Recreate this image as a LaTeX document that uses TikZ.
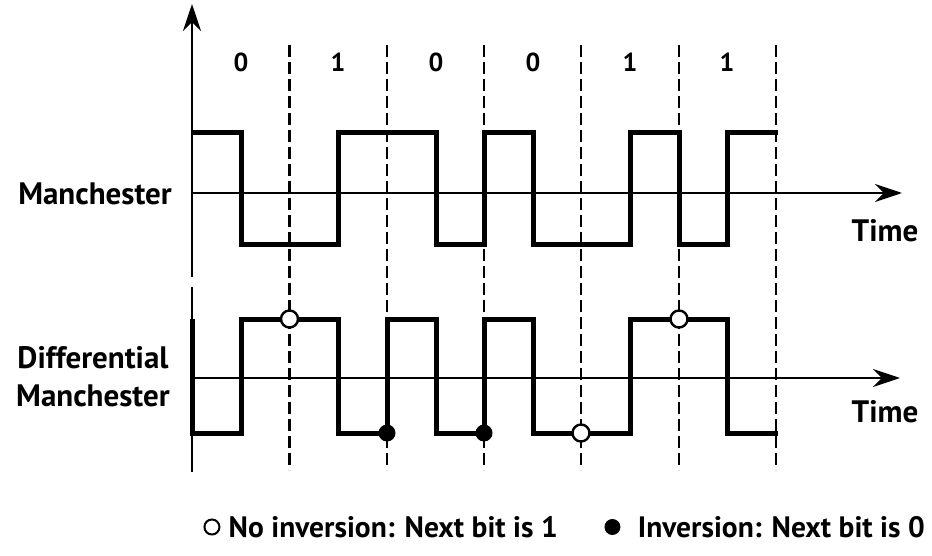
\documentclass[tikz,border=0pt]{standalone}
\usepackage{fontspec}
\setmainfont{PT Sans}
\usetikzlibrary{arrows.meta}
\begin{document}
\begin{tikzpicture}[x=1pt,y=-1pt,
  axis/.style={line width=2.8pt,-{Stealth[length=27pt,width=18pt]}},
  axisline/.style={line width=2.8pt},
  wave/.style={line width=5pt,line join=miter,line cap=butt},
  bitline/.style={line width=2.6pt,dash pattern=on 12pt off 5pt},
  lbl/.style={font=\bfseries\fontsize{31}{38}\selectfont,inner sep=0pt},
  keylbl/.style={font=\bfseries\fontsize{29.5}{34}\selectfont,inner sep=0pt},
  bitlbl/.style={font=\bfseries\fontsize{26}{30}\selectfont,inner sep=0pt},
  opendot/.style={circle,draw,fill=white,line width=2.4pt,minimum size=17pt,inner sep=0pt},
  fulldot/.style={circle,fill=black,minimum size=17pt,inner sep=0pt},
]
\useasboundingbox[fill=white] (0,0) rectangle (932,556);

% vertical axis (broken between the two traces)
\coordinate (ytop) at (192,4);
\coordinate (ybreak1) at (192,277);
\coordinate (ybreak2) at (192,287);
\coordinate (ybot) at (192,472);
\draw[axis] (ybreak1) -- (ytop);
\draw[axisline] (ybreak2) -- (ybot);

% time axes
\coordinate (m0) at (192,193);
\coordinate (m1) at (902,193);
\coordinate (d0) at (190,378);
\coordinate (d1) at (900,378);
\draw[axis] (m0) -- (m1);
\draw[axis] (d0) -- (d1);

% bit boundaries
\foreach \i/\x in {1/289.5,2/387,3/484,4/581,5/679,6/776}{
  \coordinate (bt\i) at (\x,45);
  \coordinate (bb\i) at (\x,470);
  \draw[bitline] (bt\i) -- (bb\i);
}

% bit values
\foreach \i/\x/\b in {1/241/0,2/338/1,3/436/0,4/533/0,5/630/1,6/727/1}{
  \node[bitlbl] (bit\i) at (\x,62) {\b};
}

% Manchester waveform
\draw[wave] (192,133) -- (241,133) -- (241,245) -- (338,245) -- (338,133)
  -- (436,133) -- (436,245) -- (484,245) -- (484,133) -- (533,133)
  -- (533,245) -- (630,245) -- (630,133) -- (679,133) -- (679,245)
  -- (727,245) -- (727,133) -- (778,133);

% Differential Manchester waveform
\draw[wave] (192,319) -- (192,433) -- (241,433) -- (241,319) -- (338,319)
  -- (338,433) -- (387,433) -- (387,319) -- (436,319) -- (436,433)
  -- (484,433) -- (484,319) -- (533,319) -- (533,433) -- (630,433)
  -- (630,319) -- (727,319) -- (727,433) -- (778,433);

% transition markers at bit boundaries
\node[opendot] (c1) at (289.5,319) {};
\node[fulldot] (c2) at (387,433) {};
\node[fulldot] (c3) at (484,433) {};
\node[opendot] (c4) at (581,433) {};
\node[opendot] (c5) at (679,319) {};

% trace labels
\node[lbl,anchor=east] (lman) at (172,194) {Manchester};
\node[lbl,align=center] (ldiff) at (93,377) {Differential\\Manchester};
\node[lbl] (time1) at (885,231) {Time};
\node[lbl] (time2) at (885,412) {Time};

% legend
\node[keylbl,anchor=east] (keytxt1) at (558,527) {No inversion: Next bit is 1};
\node[opendot,minimum size=15pt,line width=2pt,anchor=east] (key1) at ([xshift=-8pt]keytxt1.west) {};
\node[keylbl,anchor=east] (keytxt2) at (925,527) {Inversion: Next bit is 0};
\node[fulldot,minimum size=16pt,anchor=east] (key2) at ([xshift=-17pt]keytxt2.west) {};
\end{tikzpicture}
\end{document}
